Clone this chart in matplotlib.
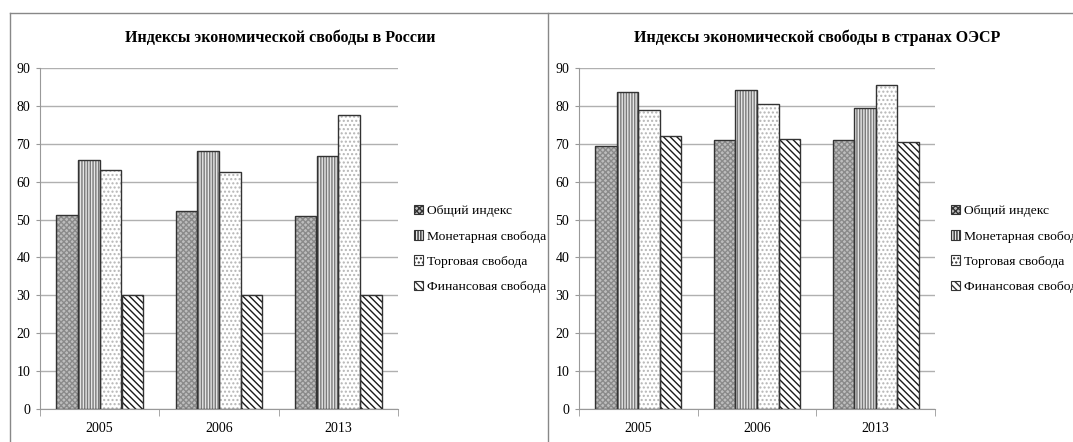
import numpy as np
import matplotlib
matplotlib.use("Agg")
import matplotlib.pyplot as plt
from matplotlib.patches import Patch
from matplotlib.lines import Line2D

plt.rcParams['font.family'] = ['Liberation Serif', 'DejaVu Serif']
plt.rcParams['hatch.linewidth'] = 1.0

years = ['2005', '2006', '2013']
series = ['Общий индекс', 'Монетарная свобода', 'Торговая свобода', 'Финансовая свобода']

# Россия
rus_total = [51.2, 52.3, 51.0]
rus_monetary = [65.6, 68.1, 66.9]
rus_trade = [63.2, 62.6, 77.5]
rus_financial = [30, 30, 30]

# страны ОЭСР
oecd_total = [69.4, 70.9, 71.1]
oecd_monetary = [83.6, 84.3, 79.5]
oecd_trade = [79.0, 80.4, 85.6]
oecd_financial = [72.1, 71.3, 70.5]

# fill, hatch colour, hatch for each series
styles = [('#bdbdbd', '#8a8a8a', 'xxxxxx'),
          ('#e6e6e6', '#7a7a7a', '||||||'),
          ('white', '#b5b5b5', '....'),
          ('white', '#1a1a1a', '\\\\\\\\\\')]

W, H = 1073, 442
fig = plt.figure(figsize=(W / 100, H / 100), dpi=100)


def px(x0, y0, x1, y1):
    return [x0 / W, 1 - y1 / H, (x1 - x0) / W, (y1 - y0) / H]


def draw_chart(rect, title, title_x, legend_x, data):
    ax = fig.add_axes(px(*rect))
    x = np.arange(len(years))
    bw = 0.18
    for i, vals in enumerate(data):
        fc, hc, hatch = styles[i]
        pos = x + (i - 1.5) * 0.1825
        ax.bar(pos, vals, bw, color=fc, edgecolor=hc, hatch=hatch, linewidth=0, zorder=2)
        ax.bar(pos, vals, bw, facecolor='none', edgecolor='#333333', linewidth=1.0, zorder=3)
    ax.set_xlim(-0.5, 2.5)
    ax.set_ylim(0, 90)
    ax.set_yticks(range(0, 91, 10))
    ax.set_xticks(x)
    ax.set_xticklabels(years)
    ax.set_xticks([-0.5, 0.5, 1.5, 2.5], minor=True)
    ax.tick_params(axis='x', which='major', length=0, pad=9, labelsize=10)
    ax.tick_params(axis='x', which='minor', length=5, color='#999999')
    ax.tick_params(axis='y', length=3, color='#999999', labelsize=10, pad=4)
    ax.grid(axis='y', color='#b0b0b0', linewidth=1, zorder=0)
    ax.set_axisbelow(True)
    for s in ['top', 'right']:
        ax.spines[s].set_visible(False)
    for s in ['left', 'bottom']:
        ax.spines[s].set_color('#999999')
    fig.text(title_x / W, 1 - 38 / H, title, ha='center', va='center',
             fontsize=11.5, fontweight='bold')
    handles = [Patch(facecolor=fc, edgecolor='#333333', hatch=h, linewidth=0.8)
               for fc, hc, h in styles]
    fig.legend(handles, series, loc='center left', bbox_to_anchor=(legend_x / W, 1 - 249 / H),
               frameon=False, fontsize=9.7, handlelength=0.7, handleheight=0.7,
               handletextpad=0.3, labelspacing=0.95, borderpad=0, borderaxespad=0)


draw_chart((40, 68, 398, 409), 'Индексы экономической свободы в России', 280, 414,
           [rus_total, rus_monetary, rus_trade, rus_financial])
draw_chart((579, 68, 935, 409), 'Индексы экономической свободы в странах ОЭСР', 817, 951,
           [oecd_total, oecd_monetary, oecd_trade, oecd_financial])

# chart frames
fig.add_artist(Line2D([10 / W, 1], [1 - 13 / H, 1 - 13 / H], color='#888888', lw=1))
fig.add_artist(Line2D([10 / W, 10 / W], [0, 1 - 13 / H], color='#888888', lw=1))
fig.add_artist(Line2D([548 / W, 548 / W], [0, 1 - 13 / H], color='#888888', lw=1))

fig.savefig('out.png', dpi=100)
